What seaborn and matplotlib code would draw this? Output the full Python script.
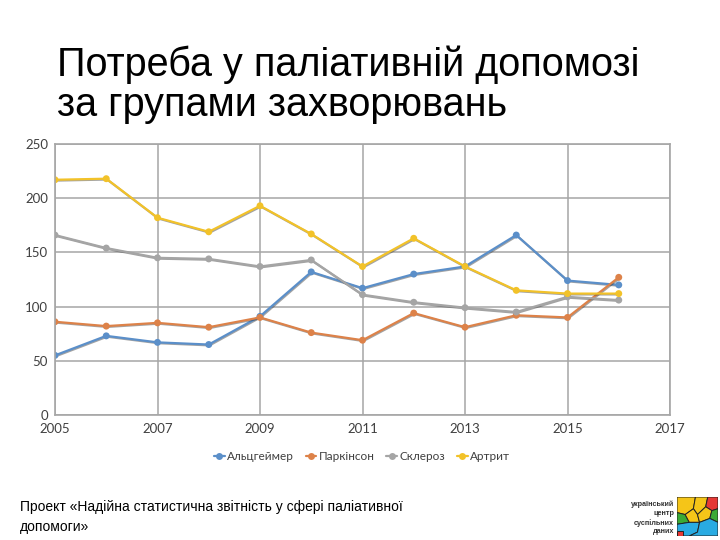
import matplotlib
matplotlib.use("Agg")
import matplotlib.pyplot as plt
import matplotlib.patheffects as pe
from matplotlib.patches import Polygon
import numpy as np
import pandas as pd
import seaborn as sns

# Values
years = [2005, 2006, 2007, 2008, 2009, 2010, 2011, 2012, 2013, 2014, 2015, 2016]
alzheimer = [55, 73, 67, 65, 91, 132, 117, 130, 137, 166, 124, 120]
parkinson = [86, 82, 85, 81, 90, 76, 69, 94, 81, 92, 90, 127]
sclerosis = [166, 154, 145, 144, 137, 143, 111, 104, 99, 95, 109, 106]
arthritis = [217, 218, 182, 169, 193, 167, 137, 163, 137, 115, 112, 112]

series_names = ["Альцгеймер", "Паркінсон", "Склероз", "Артрит"]
series_colors = ["#5B8FC9", "#DD8249", "#A5A5A5", "#F2C229"]
x_ticks = [2005, 2007, 2009, 2011, 2013, 2015, 2017]
y_ticks = [0, 50, 100, 150, 200, 250]

title = "Потреба у паліативній допомозі\nза групами захворювань"
footer = "Проект «Надійна статистична звітність у сфері паліативної\nдопомоги»"
logo_lines = ["український", "центр", "суспільних", "даних"]

df = pd.DataFrame({
    "year": years * 4,
    "value": alzheimer + parkinson + sclerosis + arthritis,
    "disease": sum([[n] * len(years) for n in series_names], []),
})

sns.set_theme(style="white")
plt.rcParams["font.family"] = ["Liberation Sans", "DejaVu Sans"]

fig = plt.figure(figsize=(7.2, 5.4), dpi=100)
ax = fig.add_axes([55 / 720, 1 - 415 / 540, 615 / 720, 271 / 540])

sns.lineplot(data=df, x="year", y="value", hue="disease", hue_order=series_names,
             palette=series_colors, marker="o", markersize=5, markeredgewidth=0,
             linewidth=1.6, ax=ax, legend=False,
             path_effects=[pe.SimpleLineShadow(offset=(0.6, -0.6), shadow_color="#333333", alpha=0.45),
                           pe.Normal()])

ax.set_xlim(2005, 2017)
ax.set_ylim(0, 250)
ax.set_xticks(x_ticks)
ax.set_yticks(y_ticks)
ax.grid(True, color="#A6A6A6", linewidth=1.1)
for s in ax.spines.values():
    s.set_color("#A6A6A6")
    s.set_linewidth(1.2)
ax.set_xlabel("")
ax.set_ylabel("")
ax.tick_params(axis="both", length=0, labelsize=9.5, labelcolor="#404040")
ax.tick_params(axis="y", pad=5)
ax.tick_params(axis="x", pad=6)
for lbl in ax.get_xticklabels() + ax.get_yticklabels():
    lbl.set_family(["Lato", "DejaVu Sans"])

# Legend
handles = [plt.Line2D([0], [0], color=c, marker="o", markersize=5, linewidth=1.6,
                      markeredgewidth=0) for c in series_colors]
fig.legend(handles, series_names, loc="center", bbox_to_anchor=(362 / 720, 1 - 457 / 540),
           ncol=4, frameon=False, handlelength=0.9, handletextpad=0.2, columnspacing=1.0,
           prop={"family": ["Lato", "DejaVu Sans"], "size": 8.5}, labelcolor="#404040")

# Title and footer
fig.text(57 / 720, 1 - 116 / 540, title, fontsize=28.5, color="black",
         ha="left", va="baseline", linespacing=1.08)
fig.text(20 / 720, 1 - 531 / 540, footer, fontsize=10, color="black",
         ha="left", va="baseline", linespacing=1.5)

# Logo: small text and a coloured puzzle block
for i, t in enumerate(logo_lines):
    fig.text(674 / 720, 1 - (504 + i * 9.3) / 540, t, fontsize=5.2, fontweight="bold",
             color="#333333", ha="right", va="center")

logo_ax = fig.add_axes([677 / 720, 1 - 536 / 540, 41 / 720, 39 / 540])
logo_ax.set_xlim(0, 1)
logo_ax.set_ylim(0, 1)
logo_ax.axis("off")
pieces = [
    ([(0, 1), (0.45, 1), (0.4, 0.7), (0.2, 0.55), (0, 0.6)], "#F5C518"),
    ([(0.45, 1), (0.75, 1), (0.7, 0.75), (0.5, 0.55), (0.4, 0.7)], "#F5C518"),
    ([(0.75, 1), (1, 1), (1, 0.7), (0.85, 0.65), (0.7, 0.75)], "#E53935"),
    ([(0, 0.6), (0.2, 0.55), (0.3, 0.35), (0, 0.3)], "#3AAA35"),
    ([(0.2, 0.55), (0.4, 0.7), (0.5, 0.55), (0.55, 0.35), (0.3, 0.35)], "#F5C518"),
    ([(0.5, 0.55), (0.7, 0.75), (0.85, 0.65), (0.8, 0.45), (0.55, 0.35)], "#F5C518"),
    ([(0.85, 0.65), (1, 0.7), (1, 0.35), (0.8, 0.45)], "#3AAA35"),
    ([(0, 0.3), (0.3, 0.35), (0.55, 0.35), (0.5, 0.1), (0.3, 0), (0, 0)], "#29ABE2"),
    ([(0.55, 0.35), (0.8, 0.45), (1, 0.35), (1, 0), (0.3, 0), (0.5, 0.1)], "#29ABE2"),
    ([(0, 0), (0.15, 0), (0.15, 0.12), (0, 0.12)], "#E53935"),
]
for pts, col in pieces:
    logo_ax.add_patch(Polygon(pts, closed=True, facecolor=col, edgecolor="#222222", linewidth=0.7))

fig.savefig("out.png", dpi=100)
